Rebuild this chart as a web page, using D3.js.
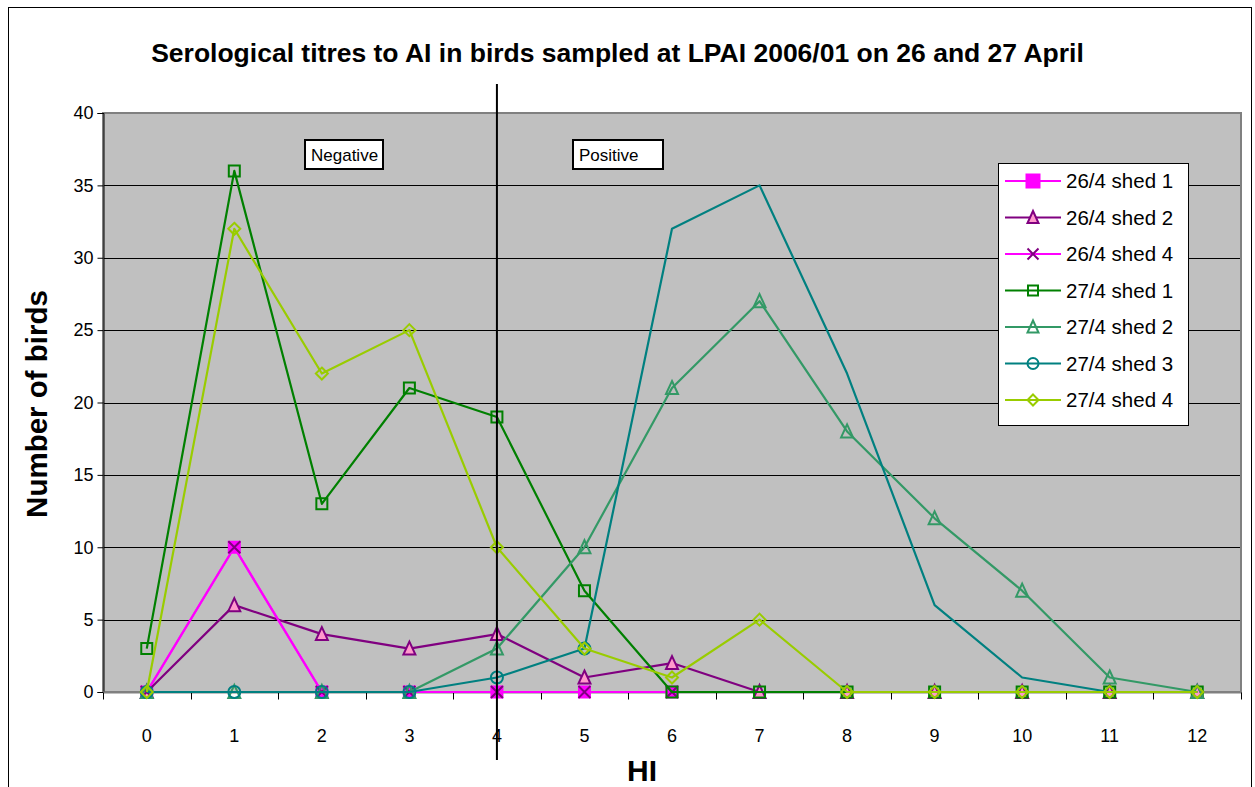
<!DOCTYPE html>
<html><head><meta charset="utf-8">
<script src="https://cdn.jsdelivr.net/npm/d3@7"></script>
<style>body{margin:0;background:#fff;} svg{display:block;font-family:"Liberation Sans",Arial,sans-serif;}</style>
</head><body>
<script>
const categories = ["0","1","2","3","4","5","6","7","8","9","10","11","12"];
const yTicks = [0,5,10,15,20,25,30,35,40];
const seriesNames = ["26/4 shed 1","26/4 shed 2","26/4 shed 4","27/4 shed 1","27/4 shed 2","27/4 shed 3","27/4 shed 4"];
const shed26_1 = [0,10,0,0,0,0,0];
const shed26_2 = [0,6,4,3,4,1,2,0,0,0,0,0,0];
const shed26_4 = [0,10,0,0,0,0,0];
const shed27_1 = [3,36,13,21,19,7,0,0,0,0,0,0,0];
const shed27_2 = [0,0,0,0,3,10,21,27,18,12,7,1,0];
const shed27_3 = [0,0,0,0,1,3,32,35,22,6,1,0,0];
const shed27_4 = [0,32,22,25,10,3,1,5,0,0,0,0,0];
const seriesValues = [shed26_1,shed26_2,shed26_4,shed27_1,shed27_2,shed27_3,shed27_4];

const styles = [
  {color:"#FF00FF", marker:"square", fill:"#FF00FF", mstroke:"#FF00FF"},
  {color:"#800080", marker:"triangle", fill:"#FF99CC", mstroke:"#800080"},
  {color:"#FF00FF", marker:"x", fill:"none", mstroke:"#800080"},
  {color:"#008000", marker:"square", fill:"none", mstroke:"#008000"},
  {color:"#339966", marker:"triangle", fill:"none", mstroke:"#339966"},
  {color:"#008080", marker:"circle", fill:"none", mstroke:"#008080", markerUpTo:5},
  {color:"#99CC00", marker:"diamond", fill:"none", mstroke:"#99CC00"}
];

const W = 1255, H = 787;
const svg = d3.select("body").append("svg").attr("width",W).attr("height",H);

// outer chart border
svg.append("rect").attr("x",8.5).attr("y",7.5).attr("width",1243).attr("height",800)
  .attr("fill","#fff").attr("stroke","#000").attr("stroke-width",1);

const plot = {left:103, right:1241, top:113, bottom:692};
const x = d3.scaleBand().domain(categories).range([plot.left, plot.right]);
const y = d3.scaleLinear().domain([0,40]).range([plot.bottom, plot.top]);
const cx = i => x(categories[i]) + x.bandwidth()/2;

// plot area
svg.append("rect").attr("x",plot.left).attr("y",plot.top)
  .attr("width",plot.right-plot.left).attr("height",plot.bottom-plot.top)
  .attr("fill","#C0C0C0");

// gridlines
svg.append("g").selectAll("line").data(yTicks.filter(d=>d>0)).join("line")
  .attr("x1",plot.left).attr("x2",plot.right)
  .attr("y1",d=>Math.round(y(d))+0.5).attr("y2",d=>Math.round(y(d))+0.5)
  .attr("stroke","#000").attr("stroke-width",1);

// plot border
svg.append("rect").attr("x",plot.left).attr("y",plot.top)
  .attr("width",plot.right-plot.left).attr("height",plot.bottom-plot.top)
  .attr("fill","none").attr("stroke","#808080").attr("stroke-width",2);

// y axis
const yAxis = d3.axisLeft(y).tickValues(yTicks).tickSize(6).tickPadding(4);
const gy = svg.append("g").attr("transform",`translate(${plot.left+0.5},0)`).call(yAxis);
gy.select(".domain").attr("stroke","#000");
gy.selectAll(".tick line").attr("stroke","#000");
gy.selectAll(".tick text").attr("font-size",18).attr("fill","#000")
  .attr("font-family","Liberation Sans, Arial, sans-serif");

// x axis: ticks at band boundaries
const gx = svg.append("g").attr("transform",`translate(0,${plot.bottom+0.5})`);
gx.append("line").attr("x1",plot.left).attr("x2",plot.right).attr("stroke","#808080").attr("stroke-width",2);
const bounds = categories.map((c,i)=>x(c)).concat([plot.right]);
gx.selectAll("line.tk").data(bounds).join("line").attr("class","tk")
  .attr("x1",d=>Math.round(d)+0.5).attr("x2",d=>Math.round(d)+0.5).attr("y1",0).attr("y2",7)
  .attr("stroke","#000");
gx.selectAll("text").data(categories).join("text")
  .attr("x",(d,i)=>cx(i)).attr("y",49).attr("text-anchor","middle")
  .attr("font-size",18).attr("fill","#000").text(d=>d);

// markers
function markerPath(type, s){
  const h = s/2;
  switch(type){
    case "square": return `M${-h},${-h}H${h}V${h}H${-h}Z`;
    case "triangle": return `M0,${-h-1}L${h},${h}L${-h},${h}Z`;
    case "diamond": return `M0,${-h}L${h},0L0,${h}L${-h},0Z`;
    case "x": return `M${-h},${-h}L${h},${h}M${h},${-h}L${-h},${h}`;
    case "circle": return `M${h},0A${h},${h} 0 1,1 ${-h},0A${h},${h} 0 1,1 ${h},0Z`;
  }
}
const line = d3.line().x((d,i)=>cx(i)).y(d=>y(d));

seriesValues.forEach((vals,si)=>{
  const st = styles[si];
  svg.append("path").datum(vals).attr("d",line)
    .attr("fill","none").attr("stroke",st.color).attr("stroke-width",2.2).attr("stroke-linejoin","round");
  const pts = vals.map((v,i)=>({v,i})).filter(p=> st.markerUpTo===undefined || p.i<=st.markerUpTo);
  svg.append("g").selectAll("path").data(pts).join("path")
    .attr("transform",p=>`translate(${cx(p.i)},${y(p.v)})`)
    .attr("d",markerPath(st.marker, st.marker==="square"?11:12))
    .attr("fill",st.marker==="x"?"none":st.fill)
    .attr("stroke",st.mstroke).attr("stroke-width",2);
});

// vertical separator at HI 4
svg.append("line").attr("x1",cx(4)).attr("x2",cx(4)).attr("y1",84).attr("y2",760)
  .attr("stroke","#000").attr("stroke-width",2);

// annotation boxes
function labelBox(text, x0, y0, w, h){
  svg.append("rect").attr("x",x0).attr("y",y0).attr("width",w).attr("height",h)
    .attr("fill","#fff").attr("stroke","#000").attr("stroke-width",2);
  svg.append("text").attr("x",x0+6).attr("y",y0+h/2+6).attr("font-size",17).attr("fill","#000").text(text);
}
labelBox("Negative",305,140,78,29);
labelBox("Positive",573,140,90,29);

// legend
const lg = svg.append("g");
lg.append("rect").attr("x",998.5).attr("y",163.5).attr("width",190).attr("height",262)
  .attr("fill","#fff").attr("stroke","#000").attr("stroke-width",1);
seriesNames.forEach((name,i)=>{
  const st = styles[i];
  const yy = 181 + i*36.5;
  lg.append("line").attr("x1",1005).attr("x2",1061).attr("y1",yy).attr("y2",yy)
    .attr("stroke",st.color).attr("stroke-width",2.2);
  lg.append("path").attr("transform",`translate(1033,${yy})`)
    .attr("d",markerPath(st.marker, st.marker==="square"?(i===0?13:10):11))
    .attr("fill",st.marker==="x"?"none":st.fill).attr("stroke",st.mstroke).attr("stroke-width",2);
  lg.append("text").attr("x",1066).attr("y",yy+7).attr("font-size",20.5).attr("fill","#000").text(name);
});

// titles
svg.append("text").attr("x",617.5).attr("y",62).attr("text-anchor","middle")
  .attr("font-size",26.5).attr("font-weight","bold").attr("fill","#000")
  .text("Serological titres to AI in birds sampled at LPAI 2006/01 on 26 and 27 April");
svg.append("text").attr("transform","translate(47,404) rotate(-90)").attr("text-anchor","middle")
  .attr("font-size",29.5).attr("font-weight","bold").attr("fill","#000").text("Number of birds");
svg.append("text").attr("x",642).attr("y",781).attr("text-anchor","middle")
  .attr("font-size",30).attr("font-weight","bold").attr("fill","#000").text("HI");
</script>
</body></html>
